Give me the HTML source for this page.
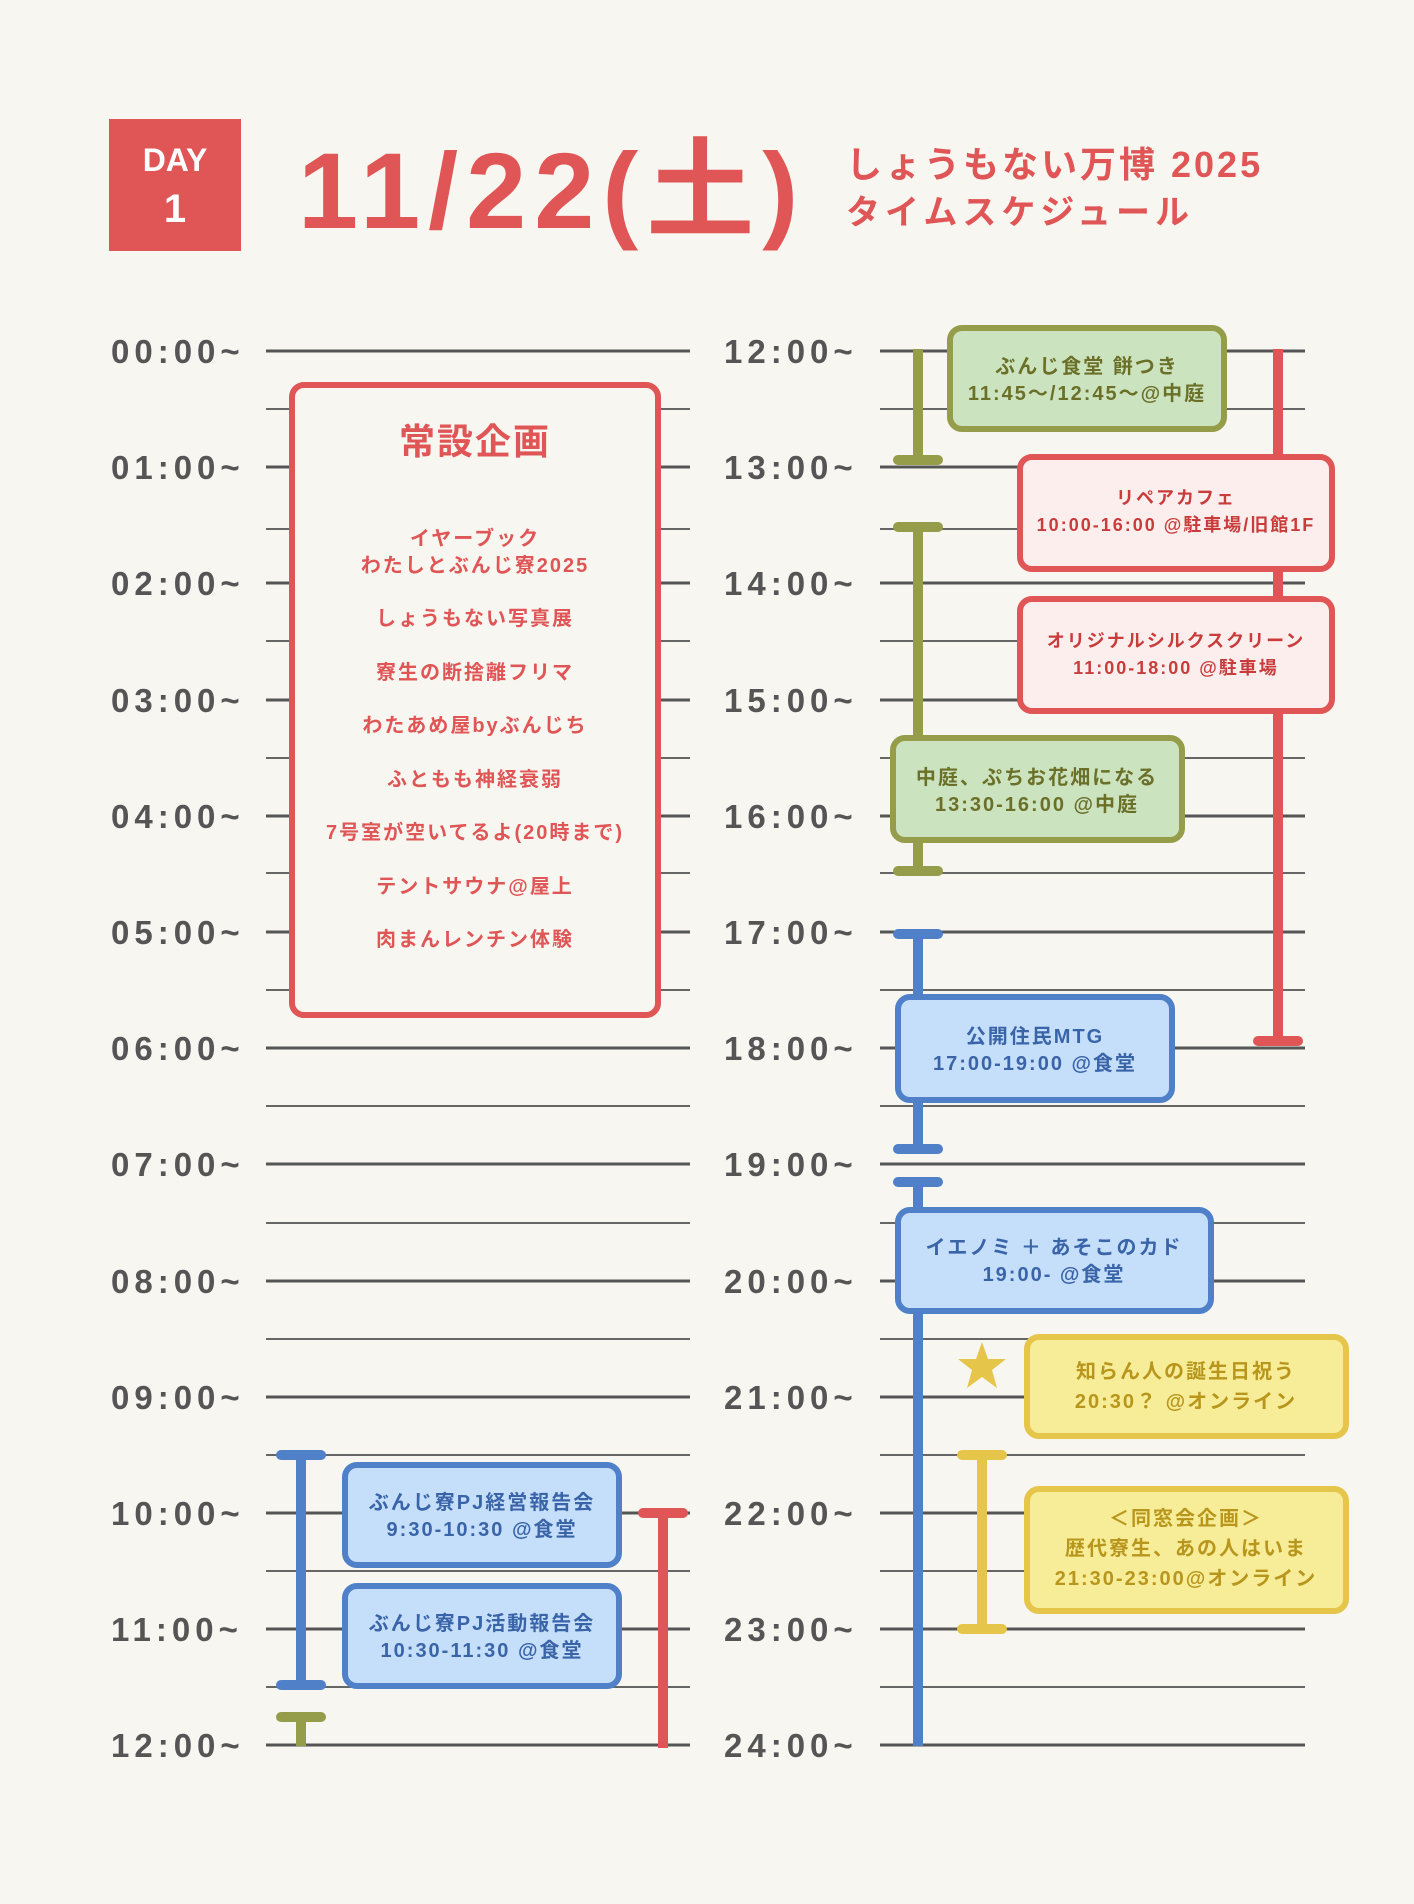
<!DOCTYPE html>
<html><head><meta charset="utf-8"><style>
html,body{margin:0;padding:0;background:#f7f6f1;}
svg{display:block;}
text{font-family:"Liberation Sans","Noto Sans CJK JP",sans-serif;}
</style></head><body>
<svg width="1414" height="1904" viewBox="0 0 1414 1904" xmlns="http://www.w3.org/2000/svg">
<rect width="1414" height="1904" fill="#f7f6f1"/>
<!-- header -->
<rect x="109" y="119" width="132" height="132" fill="#e05555"/>
<text x="175" y="171" fill="#fff" font-size="32" font-weight="bold" text-anchor="middle">DAY</text>
<text x="175" y="222" fill="#fff" font-size="40" font-weight="bold" text-anchor="middle">1</text>
<text x="298" y="228" fill="#e05555" font-size="108" font-weight="bold" letter-spacing="8">11/22(土)</text>
<text x="846" y="177" fill="#e05555" font-size="36" letter-spacing="3" font-weight="bold">しょうもない万博 2025</text>
<text x="846" y="224" fill="#e05555" font-size="34" letter-spacing="5" font-weight="bold">タイムスケジュール</text>

<!-- grid lines -->
<g stroke="#555" stroke-width="3">
<line x1="266" y1="351" x2="690" y2="351"/><line x1="266" y1="467" x2="690" y2="467"/><line x1="266" y1="583" x2="690" y2="583"/><line x1="266" y1="700" x2="690" y2="700"/><line x1="266" y1="816" x2="690" y2="816"/><line x1="266" y1="932" x2="690" y2="932"/><line x1="266" y1="1048" x2="690" y2="1048"/><line x1="266" y1="1164" x2="690" y2="1164"/><line x1="266" y1="1281" x2="690" y2="1281"/><line x1="266" y1="1397" x2="690" y2="1397"/><line x1="266" y1="1513" x2="690" y2="1513"/><line x1="266" y1="1629" x2="690" y2="1629"/><line x1="266" y1="1745" x2="690" y2="1745"/>
<line x1="880" y1="351" x2="1305" y2="351"/><line x1="880" y1="467" x2="1305" y2="467"/><line x1="880" y1="583" x2="1305" y2="583"/><line x1="880" y1="700" x2="1305" y2="700"/><line x1="880" y1="816" x2="1305" y2="816"/><line x1="880" y1="932" x2="1305" y2="932"/><line x1="880" y1="1048" x2="1305" y2="1048"/><line x1="880" y1="1164" x2="1305" y2="1164"/><line x1="880" y1="1281" x2="1305" y2="1281"/><line x1="880" y1="1397" x2="1305" y2="1397"/><line x1="880" y1="1513" x2="1305" y2="1513"/><line x1="880" y1="1629" x2="1305" y2="1629"/><line x1="880" y1="1745" x2="1305" y2="1745"/>
</g>
<g stroke="#666" stroke-width="2">
<line x1="266" y1="409" x2="690" y2="409"/><line x1="266" y1="529" x2="690" y2="529"/><line x1="266" y1="641" x2="690" y2="641"/><line x1="266" y1="758" x2="690" y2="758"/><line x1="266" y1="873" x2="690" y2="873"/><line x1="266" y1="990" x2="690" y2="990"/><line x1="266" y1="1106" x2="690" y2="1106"/><line x1="266" y1="1223" x2="690" y2="1223"/><line x1="266" y1="1339" x2="690" y2="1339"/><line x1="266" y1="1455" x2="690" y2="1455"/><line x1="266" y1="1571" x2="690" y2="1571"/><line x1="266" y1="1687" x2="690" y2="1687"/>
<line x1="880" y1="409" x2="1305" y2="409"/><line x1="880" y1="529" x2="1305" y2="529"/><line x1="880" y1="641" x2="1305" y2="641"/><line x1="880" y1="758" x2="1305" y2="758"/><line x1="880" y1="873" x2="1305" y2="873"/><line x1="880" y1="990" x2="1305" y2="990"/><line x1="880" y1="1106" x2="1305" y2="1106"/><line x1="880" y1="1223" x2="1305" y2="1223"/><line x1="880" y1="1339" x2="1305" y2="1339"/><line x1="880" y1="1455" x2="1305" y2="1455"/><line x1="880" y1="1571" x2="1305" y2="1571"/><line x1="880" y1="1687" x2="1305" y2="1687"/>
</g>

<!-- time labels -->
<g fill="#555" font-size="33" font-weight="bold" letter-spacing="5">
<text x="111" y="363">00:00~</text><text x="111" y="479">01:00~</text><text x="111" y="595">02:00~</text><text x="111" y="712">03:00~</text><text x="111" y="828">04:00~</text><text x="111" y="944">05:00~</text><text x="111" y="1060">06:00~</text><text x="111" y="1176">07:00~</text><text x="111" y="1293">08:00~</text><text x="111" y="1409">09:00~</text><text x="111" y="1525">10:00~</text><text x="111" y="1641">11:00~</text><text x="111" y="1757">12:00~</text>
<text x="724" y="363">12:00~</text><text x="724" y="479">13:00~</text><text x="724" y="595">14:00~</text><text x="724" y="712">15:00~</text><text x="724" y="828">16:00~</text><text x="724" y="944">17:00~</text><text x="724" y="1060">18:00~</text><text x="724" y="1176">19:00~</text><text x="724" y="1293">20:00~</text><text x="724" y="1409">21:00~</text><text x="724" y="1525">22:00~</text><text x="724" y="1641">23:00~</text><text x="724" y="1757">24:00~</text>
</g>

<!-- left permanent box -->
<rect x="292" y="385" width="366" height="630" rx="12" fill="#f7f6f1" stroke="#e05555" stroke-width="6"/>
<g fill="#e05555" text-anchor="middle" letter-spacing="2">
<text x="475" y="454" font-size="36" font-weight="bold">常設企画</text>
<g font-size="20" font-weight="bold">
<text x="475" y="545">イヤーブック</text>
<text x="475" y="572">わたしとぶんじ寮2025</text>
<text x="475" y="625">しょうもない写真展</text>
<text x="475" y="679">寮生の断捨離フリマ</text>
<text x="475" y="732">わたあめ屋byぶんじち</text>
<text x="475" y="786">ふともも神経衰弱</text>
<text x="475" y="839">7号室が空いてるよ(20時まで)</text>
<text x="475" y="893">テントサウナ@屋上</text>
<text x="475" y="946">肉まんレンチン体験</text>
</g></g>

<!-- left bottom bars -->
<g stroke-linecap="round">
<line x1="301" y1="1455" x2="301" y2="1685" stroke="#5080c8" stroke-width="10"/>
<line x1="281" y1="1455" x2="321" y2="1455" stroke="#5080c8" stroke-width="10"/>
<line x1="281" y1="1685" x2="321" y2="1685" stroke="#5080c8" stroke-width="10"/>
<line x1="301" y1="1717" x2="301" y2="1746" stroke="#959c4a" stroke-width="10" stroke-linecap="butt"/>
<line x1="281" y1="1717" x2="321" y2="1717" stroke="#959c4a" stroke-width="10"/>
<line x1="663" y1="1513" x2="663" y2="1748" stroke="#e05555" stroke-width="10" stroke-linecap="butt"/>
<line x1="643" y1="1513" x2="683" y2="1513" stroke="#e05555" stroke-width="10"/>
</g>
<rect x="345" y="1465" width="274" height="100" rx="12" fill="#c5defa" stroke="#5080c8" stroke-width="6"/>
<rect x="345" y="1586" width="274" height="100" rx="12" fill="#c5defa" stroke="#5080c8" stroke-width="6"/>
<g fill="#3a64a8" font-size="20" text-anchor="middle" letter-spacing="2" font-weight="bold">
<text x="482" y="1509">ぶんじ寮PJ経営報告会</text><text x="482" y="1536">9:30-10:30 @食堂</text>
<text x="482" y="1630">ぶんじ寮PJ活動報告会</text><text x="482" y="1657">10:30-11:30 @食堂</text>
</g>

<!-- right bars -->
<g stroke-linecap="round" stroke-width="10">
<line x1="918" y1="349" x2="918" y2="460" stroke="#959c4a" stroke-linecap="butt"/>
<line x1="898" y1="460" x2="938" y2="460" stroke="#959c4a"/>
<line x1="918" y1="527" x2="918" y2="871" stroke="#959c4a"/>
<line x1="898" y1="527" x2="938" y2="527" stroke="#959c4a"/>
<line x1="898" y1="871" x2="938" y2="871" stroke="#959c4a"/>
<line x1="1278" y1="349" x2="1278" y2="1041" stroke="#e05555" stroke-linecap="butt"/>
<line x1="1258" y1="1041" x2="1298" y2="1041" stroke="#e05555"/>
<line x1="918" y1="934" x2="918" y2="1149" stroke="#5080c8"/>
<line x1="898" y1="934" x2="938" y2="934" stroke="#5080c8"/>
<line x1="898" y1="1149" x2="938" y2="1149" stroke="#5080c8"/>
<line x1="918" y1="1182" x2="918" y2="1746" stroke="#5080c8" stroke-linecap="butt"/>
<line x1="898" y1="1182" x2="938" y2="1182" stroke="#5080c8"/>
<line x1="982" y1="1455" x2="982" y2="1629" stroke="#e5c54a"/>
<line x1="962" y1="1455" x2="1002" y2="1455" stroke="#e5c54a"/>
<line x1="962" y1="1629" x2="1002" y2="1629" stroke="#e5c54a"/>
</g>

<!-- right boxes -->
<rect x="950" y="328" width="274" height="101" rx="12" fill="#cce3c0" stroke="#959c4a" stroke-width="6"/>
<rect x="1020" y="457" width="312" height="112" rx="12" fill="#fdeeee" stroke="#e05555" stroke-width="6"/>
<rect x="1020" y="599" width="312" height="112" rx="12" fill="#fdeeee" stroke="#e05555" stroke-width="6"/>
<rect x="893" y="738" width="289" height="102" rx="12" fill="#cce3c0" stroke="#959c4a" stroke-width="6"/>
<rect x="898" y="997" width="274" height="103" rx="12" fill="#c5defa" stroke="#5080c8" stroke-width="6"/>
<rect x="898" y="1210" width="313" height="101" rx="12" fill="#c5defa" stroke="#5080c8" stroke-width="6"/>
<rect x="1027" y="1337" width="319" height="99" rx="12" fill="#f7ec98" stroke="#e5c54a" stroke-width="6"/>
<rect x="1027" y="1489" width="319" height="122" rx="12" fill="#f7ec98" stroke="#e5c54a" stroke-width="6"/>
<polygon points="982,1342 988,1359 1006,1359 992,1370 997,1388 982,1377 967,1388 972,1370 958,1359 976,1359" fill="#e5c54a"/>

<g font-size="20" text-anchor="middle" letter-spacing="2" font-weight="bold">
<g fill="#6b7028"><text x="1087" y="373">ぶんじ食堂 餅つき</text><text x="1087" y="400">11:45～/12:45～@中庭</text>
<text x="1037" y="784">中庭、ぷちお花畑になる</text><text x="1037" y="811">13:30-16:00 @中庭</text></g>
<g fill="#c83c3c" font-size="18"><text x="1176" y="504">リペアカフェ</text><text x="1176" y="531">10:00-16:00 @駐車場/旧館1F</text>
<text x="1176" y="647">オリジナルシルクスクリーン</text><text x="1176" y="674">11:00-18:00 @駐車場</text></g>
<g fill="#3a64a8"><text x="1035" y="1043">公開住民MTG</text><text x="1035" y="1070">17:00-19:00 @食堂</text>
<text x="1054" y="1254">イエノミ ＋ あそこのカド</text><text x="1054" y="1281">19:00- @食堂</text></g>
<g fill="#b8961c"><text x="1186" y="1378">知らん人の誕生日祝う</text><text x="1186" y="1408">20:30？ @オンライン</text>
<text x="1186" y="1525">＜同窓会企画＞</text><text x="1186" y="1555">歴代寮生、あの人はいま</text><text x="1186" y="1585">21:30-23:00@オンライン</text></g>
</g>
</svg>
</body></html>
